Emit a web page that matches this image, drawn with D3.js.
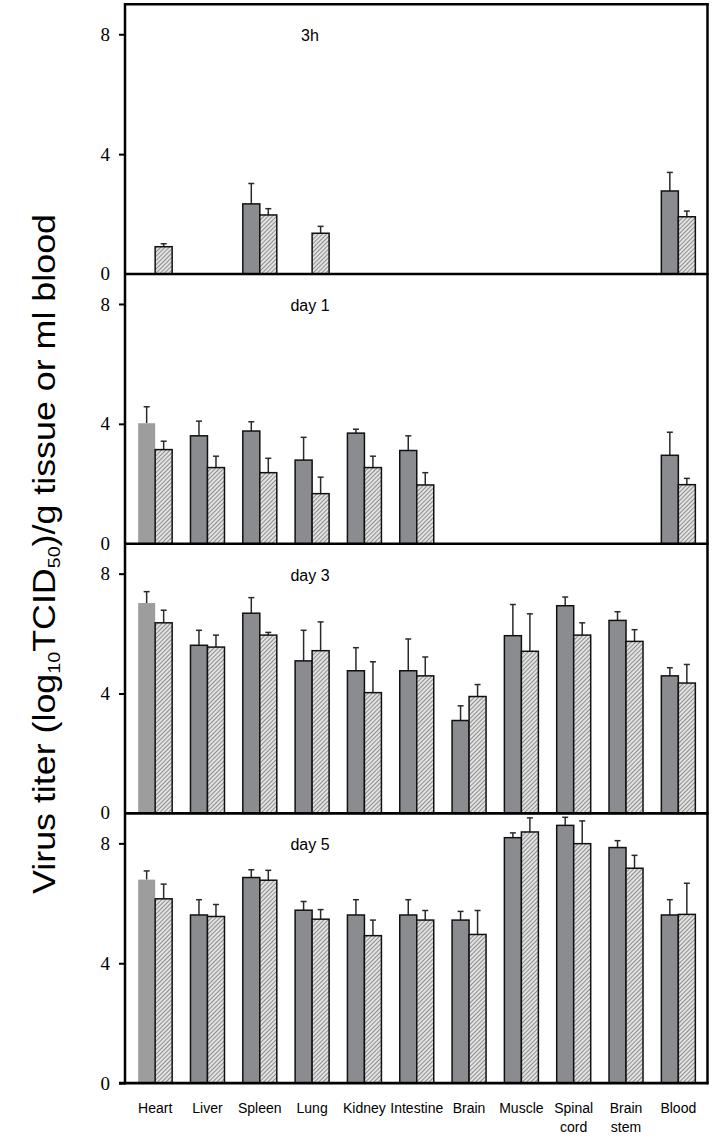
<!DOCTYPE html>
<html><head><meta charset="utf-8">
<script src="https://cdn.jsdelivr.net/npm/d3@7"></script>
<style>body{margin:0;background:#fff}</style>
</head><body>
<svg id="chart" width="714" height="1141"></svg>
<script>
const categories = ["Heart","Liver","Spleen","Lung","Kidney","Intestine","Brain","Muscle","Spinal cord","Brain stem","Blood"];
const panelTitles = ["3h","day 1","day 3","day 5"];
const yTicks = [0,4,8];

const solid3h      = [null,null,2.34,null,null,null,null,null,null,null,2.77];
const solid3hErr   = [null,null,0.68,null,null,null,null,null,null,null,0.62];
const hatch3h      = [0.91,null,1.97,1.36,null,null,null,null,null,null,1.91];
const hatch3hErr   = [0.10,null,0.21,0.23,null,null,null,null,null,null,0.19];

const solidDay1    = [4.02,3.60,3.76,2.79,3.69,3.11,null,null,null,null,2.95];
const solidDay1Err = [0.55,0.49,0.31,0.76,0.13,0.49,null,null,null,null,0.77];
const hatchDay1    = [3.14,2.54,2.37,1.67,2.54,1.96,null,null,null,null,1.97];
const hatchDay1Err = [0.28,0.38,0.48,0.55,0.38,0.41,null,null,null,null,0.21];

const solidDay3    = [7.02,5.61,6.68,5.09,4.76,4.76,3.10,5.93,6.93,6.44,4.59];
const solidDay3Err = [0.38,0.50,0.52,1.02,0.77,1.06,0.49,1.04,0.29,0.29,0.27];
const hatchDay3    = [6.36,5.55,5.95,5.43,4.03,4.59,3.90,5.41,5.95,5.74,4.35];
const hatchDay3Err = [0.42,0.40,0.09,0.96,1.03,0.63,0.40,1.25,0.41,0.39,0.62];

const solidDay5    = [6.79,5.61,6.86,5.77,5.61,5.61,5.44,8.19,8.60,7.86,5.61];
const solidDay5Err = [0.29,0.51,0.26,0.29,0.51,0.51,0.29,0.16,0.27,0.23,0.51];
const hatchDay5    = [6.15,5.56,6.77,5.47,4.92,5.44,4.96,8.38,7.99,7.17,5.63];
const hatchDay5Err = [0.49,0.40,0.33,0.32,0.52,0.32,0.80,0.47,0.76,0.43,1.04];

const panels = [
  {title: panelTitles[0], solid: solid3h, solidErr: solid3hErr, hatch: hatch3h, hatchErr: hatch3hErr},
  {title: panelTitles[1], solid: solidDay1, solidErr: solidDay1Err, hatch: hatchDay1, hatchErr: hatchDay1Err},
  {title: panelTitles[2], solid: solidDay3, solidErr: solidDay3Err, hatch: hatchDay3, hatchErr: hatchDay3Err},
  {title: panelTitles[3], solid: solidDay5, solidErr: solidDay5Err, hatch: hatchDay5, hatchErr: hatchDay5Err}
];

const svg = d3.select("#chart");
const defs = svg.append("defs");
const pat = defs.append("pattern").attr("id","hatch").attr("patternUnits","userSpaceOnUse")
  .attr("width",3).attr("height",3).attr("patternTransform","rotate(45)");
pat.append("rect").attr("width",3).attr("height",3).attr("fill","#e2e2e2");
pat.append("line").attr("x1",0.5).attr("y1",0).attr("x2",0.5).attr("y2",3).attr("stroke","#8e8e8e").attr("stroke-width",1);

const left = 125, right = 707.5, firstTop = 4.3, panelH = 269.7;
const x = d3.scaleBand().domain(categories).range([129, 704.5]).paddingInner(0.35).paddingOuter(0.175);
const sub = d3.scaleBand().domain(["solid","hatch"]).range([0, x.bandwidth()]);

panels.forEach((p, pi) => {
  const top = firstTop + pi * panelH;
  const bottom = top + panelH;
  const y = d3.scaleLinear().domain([0, 9]).range([bottom, top]);
  const g = svg.append("g");

  const rows = [];
  categories.forEach((c, i) => {
    if (p.solid[i] != null) rows.push({cat: c, i, key: "solid", v: p.solid[i], e: p.solidErr[i]});
    if (p.hatch[i] != null) rows.push({cat: c, i, key: "hatch", v: p.hatch[i], e: p.hatchErr[i]});
  });

  const eg = g.selectAll("g.err").data(rows).join("g").attr("class","err")
    .attr("stroke","#2a2a2a").attr("stroke-width",1.5);
  eg.append("line")
    .attr("x1", d => x(d.cat) + sub(d.key) + sub.bandwidth()/2)
    .attr("x2", d => x(d.cat) + sub(d.key) + sub.bandwidth()/2)
    .attr("y1", d => y(d.v)).attr("y2", d => y(d.v + d.e));
  eg.append("line")
    .attr("x1", d => x(d.cat) + sub(d.key) + sub.bandwidth()/2 - 3)
    .attr("x2", d => x(d.cat) + sub(d.key) + sub.bandwidth()/2 + 3)
    .attr("y1", d => y(d.v + d.e)).attr("y2", d => y(d.v + d.e));

  g.selectAll("rect.bar").data(rows).join("rect").attr("class","bar")
    .attr("x", d => x(d.cat) + sub(d.key))
    .attr("width", sub.bandwidth())
    .attr("y", d => y(d.v))
    .attr("height", d => y(0) - y(d.v))
    .attr("fill", d => d.key === "hatch" ? "url(#hatch)" : (d.i === 0 ? "#9d9d9e" : "#8b8c90"))
    .attr("stroke", d => (d.key === "solid" && d.i === 0) ? "none" : "#111")
    .attr("stroke-width", 1.5);

  const ticks = pi === panels.length - 1 ? yTicks : yTicks.filter(t => t !== 0);
  const ax = g.append("g").attr("transform", `translate(${left},0)`)
    .call(d3.axisLeft(y).tickValues(ticks).tickSize(6).tickPadding(9).tickFormat(d3.format("d")));
  ax.select(".domain").remove();
  ax.selectAll(".tick line").attr("stroke","#000").attr("stroke-width",2);
  ax.selectAll(".tick text").attr("font-family","'Liberation Serif', 'DejaVu Serif', serif").attr("font-size",19).attr("fill","#000");
  if (pi !== panels.length - 1) {
    g.append("text").attr("x", left - 15).attr("y", y(0)).attr("dy","0.32em")
      .attr("text-anchor","end").attr("font-family","'Liberation Serif', serif").attr("font-size",19).text(d3.format("d")(0));
  }

  g.append("line").attr("x1", pi === panels.length - 1 ? left - 6 : left).attr("x2", right + 1)
    .attr("y1", y(0)).attr("y2", y(0)).attr("stroke","#000").attr("stroke-width",2.6);

  g.append("text").attr("x", 310).attr("y", top + 37).attr("text-anchor","middle")
    .attr("font-family","'Liberation Sans', Arial, sans-serif").attr("font-size",16).text(p.title);
});

const bottomAll = firstTop + panels.length * panelH;
svg.append("line").attr("x1", left).attr("x2", left).attr("y1", firstTop - 1.2).attr("y2", bottomAll + 1.2).attr("stroke","#000").attr("stroke-width",2.5);
svg.append("line").attr("x1", right).attr("x2", right).attr("y1", firstTop - 1.2).attr("y2", bottomAll + 1.2).attr("stroke","#000").attr("stroke-width",2.5);
svg.append("line").attr("x1", left).attr("x2", right + 1).attr("y1", firstTop).attr("y2", firstTop).attr("stroke","#000").attr("stroke-width",2.5);

const xl = svg.append("g").attr("font-family","'Liberation Sans', Arial, sans-serif").attr("font-size",14).attr("text-anchor","middle");
categories.forEach(c => {
  const t = xl.append("text").attr("x", x(c) + x.bandwidth()/2).attr("y", 1113);
  const parts = c.split(" ");
  if (c === "Spinal cord" || c === "Brain stem") {
    parts.forEach((w, k) => t.append("tspan").attr("x", x(c) + x.bandwidth()/2).attr("dy", k === 0 ? 0 : 19).text(w));
  } else {
    t.text(c);
  }
});

const yt = svg.append("text").attr("transform", "translate(55,554) rotate(-90)")
  .attr("text-anchor","middle").attr("font-family","'Liberation Sans', Arial, sans-serif").attr("font-size",31)
  .attr("textLength", 680).attr("lengthAdjust", "spacingAndGlyphs");
yt.append("tspan").text("Virus titer (log");
yt.append("tspan").attr("font-size",17).attr("dy",5).text("10");
yt.append("tspan").attr("dy",-5).text("TCID");
yt.append("tspan").attr("font-size",17).attr("dy",5).text("50");
yt.append("tspan").attr("dy",-5).text(")/g tissue or ml blood");
</script>
</body></html>
